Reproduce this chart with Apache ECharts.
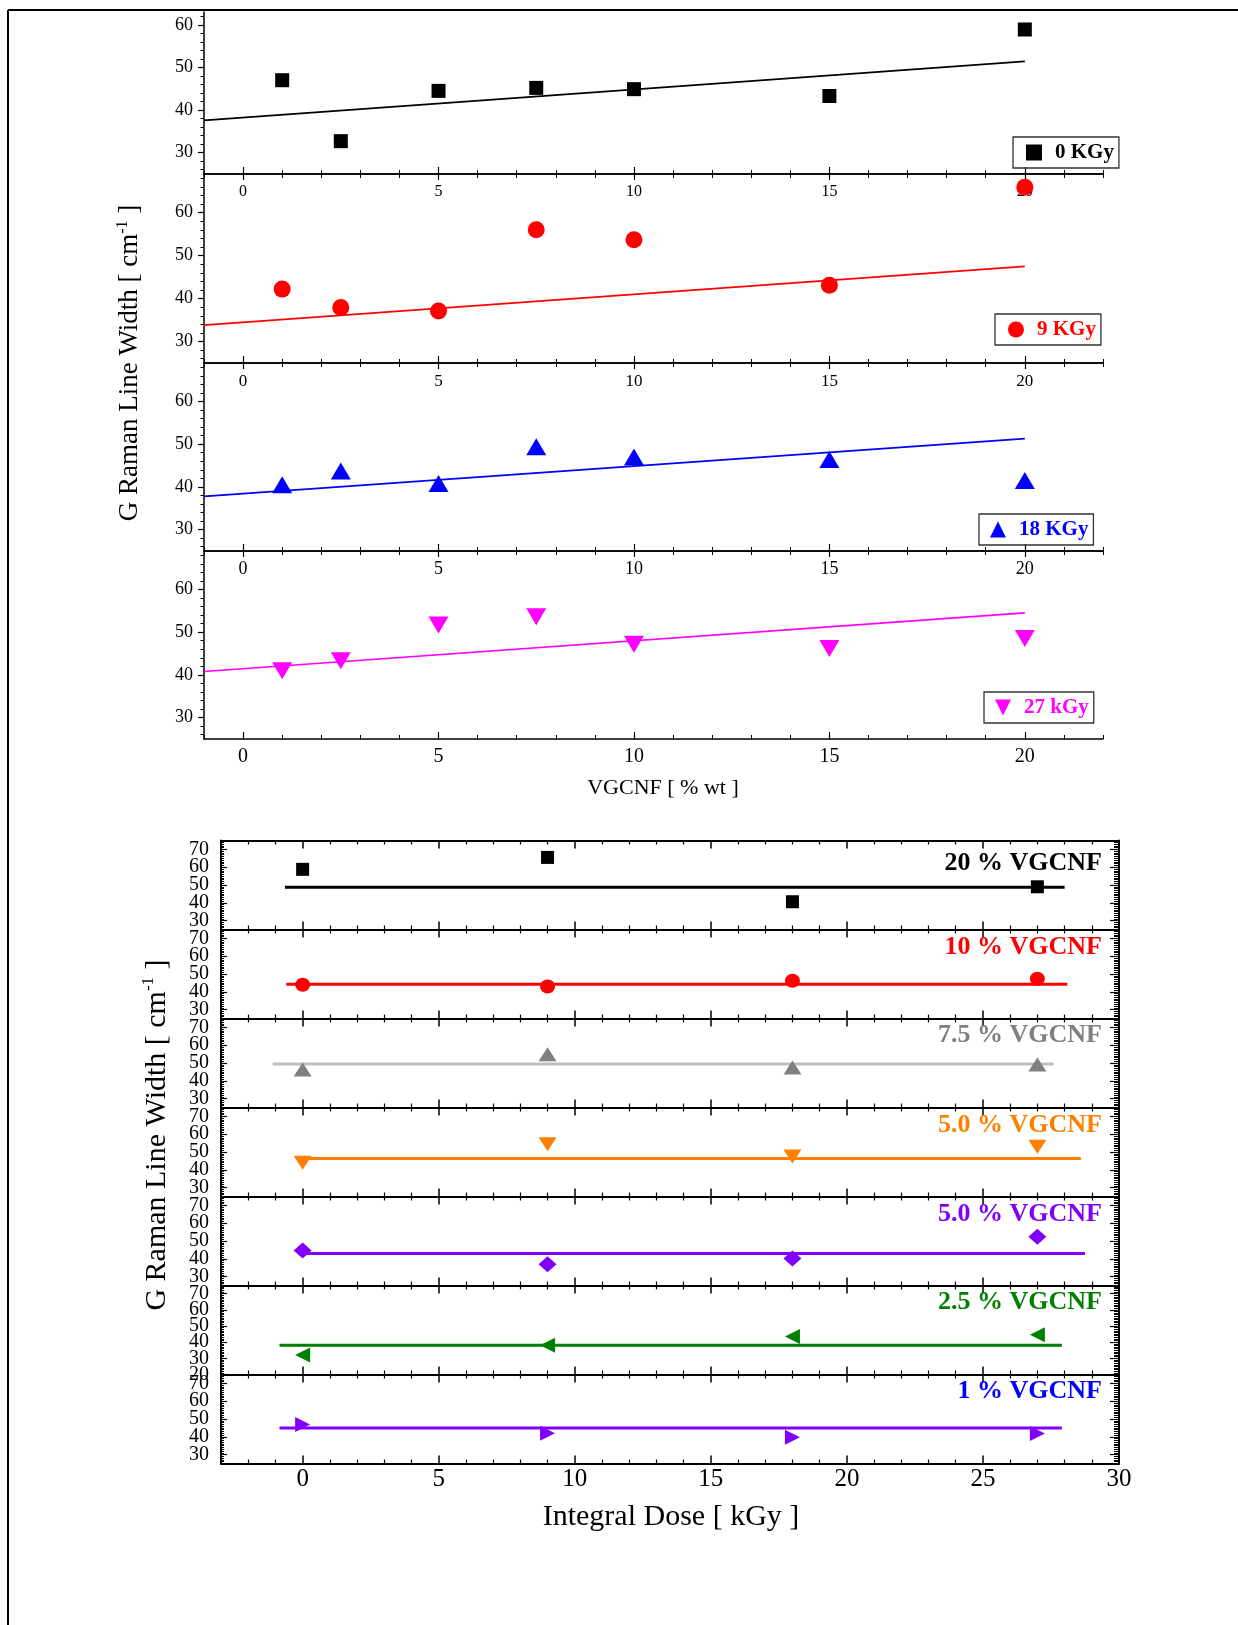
<!DOCTYPE html>
<html><head><meta charset="utf-8">
<script src="https://cdn.jsdelivr.net/npm/echarts@6/dist/echarts.min.js"></script>
<style>html,body{margin:0;padding:0;background:#fff}#c{width:1238px;height:1625px}</style>
</head><body><div id="c"></div>
<script>
const FONT = '"Liberation Serif", "Times New Roman", serif';

// ---------- Top chart data (x = VGCNF % wt) ----------
const vgcnf = [1, 2.5, 5, 7.5, 10, 15, 20];
const width0kGy  = [47.0, 32.7, 44.5, 45.2, 44.9, 43.3, 58.9];
const width9kGy  = [42.2, 37.9, 37.1, 56.0, 53.7, 43.1, 65.9];
const width18kGy = [40.5, 43.7, 40.8, 49.4, 47.0, 46.4, 41.5];
const width27kGy = [41.0, 43.3, 51.7, 53.6, 47.2, 46.2, 48.5];
const fitX = [-1, 20];
const fit0kGy  = [37.6, 51.4];
const fit9kGy  = [33.8, 47.5];
const fit18kGy = [37.8, 51.3];
const fit27kGy = [40.8, 54.5];
const topXTicks = [0, 5, 10, 15, 20];
const topYTicks = [30, 40, 50, 60];

// ---------- Bottom chart data (x = integral dose kGy) ----------
const dose = [0, 9, 18, 27];
const w20pct  = [58.8, 65.5, 40.6, 49.0];
const w10pct  = [44.0, 43.0, 46.2, 47.3];
const w75pct  = [46.3, 54.9, 47.5, 49.1];
const w50pctA = [44.0, 54.4, 47.5, 52.9];
const w50pctB = [44.7, 36.9, 40.2, 52.4];
const w25pct  = [32.0, 38.0, 43.5, 44.5];
const w1pct   = [46.9, 42.0, 39.7, 41.8];
const fit20pct  = {x: [-0.65, 28.0], y: 48.7};
const fit10pct  = {x: [-0.6, 28.1], y: 44.3};
const fit75pct  = {x: [-1.1, 27.6], y: 49.4};
const fit50pctA = {x: [0, 28.6], y: 46.4};
const fit50pctB = {x: [0, 28.75], y: 43.0};
const fit25pct  = {x: [-0.85, 27.9], y: 38.0};
const fit1pct   = {x: [-0.85, 27.9], y: 45.0};
const botXTicks = [0, 5, 10, 15, 20, 25, 30];
const botYTicks = [30, 40, 50, 60, 70];
const botYTicks20 = [20, 30, 40, 50, 60, 70];

// ---------- helpers ----------
function seq(a, b, step) { const r = []; for (let v = a; v <= b + 1e-9; v += step) r.push(Math.round(v * 1000) / 1000); return r; }
function minorOf(a, b, step, major) { return seq(a, b, step).filter(v => Math.abs(v / major - Math.round(v / major)) > 1e-6); }

const grid = [], xAxis = [], yAxis = [], series = [], legend = [], graphic = [];
function fixAxis(o) {
  o.axisLine = Object.assign({onZero: false}, o.axisLine || {});
  if (o.axisLabel) o.axisLabel = Object.assign({showMinLabel: true, showMaxLabel: true, hideOverlap: false}, o.axisLabel);
  return o;
}
function addX(g, o) { xAxis.push(fixAxis(Object.assign({gridIndex: g, type: 'value', splitLine: {show: false}}, o))); return xAxis.length - 1; }
function addY(g, o) { yAxis.push(fixAxis(Object.assign({gridIndex: g, type: 'value', splitLine: {show: false}}, o))); return yAxis.length - 1; }
const blk = (w) => ({color: '#000', width: w});

const DOWN = 'path://M0,0L10,0L5,10Z';
const LEFT = 'path://M0,5L10,0L10,10Z';
const RIGHT = 'path://M10,5L0,0L0,10Z';

// ---------- Top panels ----------
const topPanels = [
  {name: '0 KGy', data: width0kGy, fit: fit0kGy, color: '#000000', symbol: 'rect', size: [14, 14], top: 12, h: 162, ymax: 63, lab: 16, mar: 10,
   lg: {left: 1013, top: 137, padding: [5, 5, 5, 13]}},
  {name: '9 KGy', data: width9kGy, fit: fit9kGy, color: '#ff0000', symbol: 'circle', size: 17, top: 174, h: 189, ymax: 69, lab: 17, mar: 10,
   lg: {left: 995, top: 314, padding: [5, 5, 5, 13]}},
  {name: '18 KGy', data: width18kGy, fit: fit18kGy, color: '#0000ff', symbol: 'triangle', size: [20, 17], top: 363, h: 188, ymax: 69, lab: 18, mar: 9,
   lg: {left: 979, top: 514, padding: [5, 5, 5, 11]}},
  {name: '27 kGy', data: width27kGy, fit: fit27kGy, color: '#ff00ff', symbol: DOWN, size: [20, 17], top: 551, h: 188, ymax: 69, lab: 20, mar: 8,
   lg: {left: 984, top: 692, padding: [5, 5, 5, 11]}}
];

topPanels.forEach((p, i) => {
  grid.push({left: 204, top: p.top, width: 899, height: p.h});
  const g = grid.length - 1;
  const xi = addX(g, {position: 'bottom', min: -1, max: 22,
    axisLine: {show: true, lineStyle: blk(1.5)},
    axisTick: {show: true, inside: true, length: 7, customValues: topXTicks, lineStyle: blk(1.2)},
    axisLabel: {show: true, customValues: topXTicks, fontFamily: FONT, fontSize: p.lab, color: '#000', margin: p.mar}});
  addX(g, {position: 'bottom', min: -1, max: 22, axisLine: {show: false},
    axisTick: {show: true, inside: true, length: 4, customValues: minorOf(-1, 22, 1, 5), lineStyle: blk(1)},
    axisLabel: {show: false}});
  if (i > 0) {
    addX(g, {position: 'top', min: -1, max: 22,
      axisLine: {show: true, lineStyle: blk(1.5)},
      axisTick: {show: true, inside: true, length: 6, customValues: topXTicks, lineStyle: blk(1.2)},
      axisLabel: {show: false}});
    addX(g, {position: 'top', min: -1, max: 22, axisLine: {show: false},
      axisTick: {show: true, inside: true, length: 4, customValues: minorOf(-1, 22, 1, 5), lineStyle: blk(1)},
      axisLabel: {show: false}});
  }
  const yi = addY(g, {position: 'left', min: 25, max: p.ymax,
    axisLine: {show: true, lineStyle: blk(1.5)},
    axisTick: {show: true, inside: false, length: 6, customValues: topYTicks, lineStyle: blk(1.2)},
    axisLabel: {show: true, customValues: topYTicks, fontFamily: FONT, fontSize: 18, color: '#000', margin: 11}});
  addY(g, {position: 'left', min: 25, max: p.ymax, axisLine: {show: false},
    axisTick: {show: true, inside: false, length: 3.5, customValues: minorOf(26, p.ymax, 2, 10), lineStyle: blk(1)},
    axisLabel: {show: false}});
  series.push({type: 'line', name: p.name + ' fit', xAxisIndex: xi, yAxisIndex: yi,
    data: fitX.map((x, k) => [x, p.fit[k]]), symbol: 'none', showSymbol: false,
    lineStyle: {color: p.color, width: 1.7}, silent: true, z: 2, animation: false});
  series.push({type: 'scatter', name: p.name, xAxisIndex: xi, yAxisIndex: yi,
    data: vgcnf.map((x, k) => [x, p.data[k]]), symbol: p.symbol, symbolSize: p.size,
    itemStyle: {color: p.color, opacity: 1}, z: 3, animation: false});
  legend.push({data: [{name: p.name}], left: p.lg.left, top: p.lg.top, padding: p.lg.padding,
    orient: 'horizontal', borderColor: '#333', borderWidth: 1.3, itemWidth: 16, itemHeight: 16,
    selectedMode: false,
    textStyle: {fontFamily: FONT, fontSize: 21, fontWeight: 'bold', color: p.color, padding: [0, 0, 0, 8]}});
});

// ---------- Bottom panels ----------
const bottomPanels = [
  {label: '20 % VGCNF', labelColor: '#000000', color: '#000000', lineColor: '#000000', symbol: 'rect', size: [13, 13], data: w20pct, fit: fit20pct, ymin: 25, yTicks: botYTicks, ly: 863},
  {label: '10 % VGCNF', labelColor: '#ff0000', color: '#ff0000', lineColor: '#ff0000', symbol: 'circle', size: [15, 14], data: w10pct, fit: fit10pct, ymin: 25, yTicks: botYTicks, ly: 947},
  {label: '7.5 % VGCNF', labelColor: '#808080', color: '#808080', lineColor: '#c0c0c0', symbol: 'triangle', size: [18, 14], data: w75pct, fit: fit75pct, ymin: 25, yTicks: botYTicks, ly: 1035.5},
  {label: '5.0 % VGCNF', labelColor: '#ff8000', color: '#ff8000', lineColor: '#ff8000', symbol: DOWN, size: [18, 14], data: w50pctA, fit: fit50pctA, ymin: 25, yTicks: botYTicks, ly: 1125.5},
  {label: '5.0 % VGCNF', labelColor: '#8000ff', color: '#8000ff', lineColor: '#8000ff', symbol: 'diamond', size: [18, 16], data: w50pctB, fit: fit50pctB, ymin: 25, yTicks: botYTicks, ly: 1214},
  {label: '2.5 % VGCNF', labelColor: '#008000', color: '#008000', lineColor: '#008000', symbol: LEFT, size: [15, 15], data: w25pct, fit: fit25pct, ymin: 20, yTicks: botYTicks20, ly: 1302.5},
  {label: '1 % VGCNF', labelColor: '#0000ff', color: '#8000ff', lineColor: '#8000ff', symbol: RIGHT, size: [15, 15], data: w1pct, fit: fit1pct, ymin: 25, yTicks: botYTicks, ly: 1391.5}
];
const BOT_TOP = 840.5, BOT_H = 89;
bottomPanels.forEach((p, i) => {
  grid.push({left: 221, top: BOT_TOP + i * BOT_H, width: 898, height: BOT_H});
  const g = grid.length - 1;
  const last = i === bottomPanels.length - 1;
  const xi = addX(g, {position: 'bottom', min: -3, max: 30,
    axisLine: {show: true, lineStyle: blk(2)},
    axisTick: {show: true, inside: true, length: 8, customValues: botXTicks, lineStyle: blk(1.5)},
    axisLabel: {show: last, customValues: botXTicks, fontFamily: FONT, fontSize: 25, color: '#000', margin: 3}});
  addX(g, {position: 'bottom', min: -3, max: 30, axisLine: {show: false},
    axisTick: {show: true, inside: true, length: 4, customValues: minorOf(-3, 30, 1, 5), lineStyle: blk(1.2)},
    axisLabel: {show: false}});
  addX(g, {position: 'top', min: -3, max: 30,
    axisLine: {show: true, lineStyle: blk(2)},
    axisTick: {show: true, inside: true, length: 8, customValues: botXTicks, lineStyle: blk(1.5)},
    axisLabel: {show: false}});
  addX(g, {position: 'top', min: -3, max: 30, axisLine: {show: false},
    axisTick: {show: true, inside: true, length: 4, customValues: minorOf(-3, 30, 1, 5), lineStyle: blk(1.2)},
    axisLabel: {show: false}});
  // split the crowded y labels over two axes so none is auto-hidden
  const labA = p.yTicks.filter((v, k) => k % 2 === 0);
  const labB = p.yTicks.filter((v, k) => k % 2 === 1);
  const yi = addY(g, {position: 'left', min: p.ymin, max: 75,
    axisLine: {show: true, lineStyle: blk(2)},
    axisTick: {show: true, inside: true, length: 6, customValues: p.yTicks, lineStyle: blk(1.2)},
    axisLabel: {show: true, customValues: labA, fontFamily: FONT, fontSize: 20, color: '#000', margin: 12}});
  addY(g, {position: 'left', min: p.ymin, max: 75, axisLine: {show: false},
    axisTick: {show: true, inside: true, length: 3, customValues: minorOf(p.ymin, 75, 1, 10), lineStyle: blk(1)},
    axisLabel: {show: true, customValues: labB, fontFamily: FONT, fontSize: 20, color: '#000', margin: 12}});
  addY(g, {position: 'right', min: p.ymin, max: 75,
    axisLine: {show: true, lineStyle: blk(2)},
    axisTick: {show: true, inside: true, length: 9, customValues: p.yTicks, lineStyle: blk(1.2)},
    axisLabel: {show: false}});
  addY(g, {position: 'right', min: p.ymin, max: 75, axisLine: {show: false},
    axisTick: {show: true, inside: true, length: 5, customValues: minorOf(p.ymin, 75, 1, 10), lineStyle: blk(1)},
    axisLabel: {show: false}});
  series.push({type: 'line', name: p.label + ' fit ' + i, xAxisIndex: xi, yAxisIndex: yi,
    data: p.fit.x.map(x => [x, p.fit.y]), symbol: 'none', showSymbol: false,
    lineStyle: {color: p.lineColor, width: 3}, silent: true, z: 2, animation: false});
  series.push({type: 'scatter', name: p.label + ' ' + i, xAxisIndex: xi, yAxisIndex: yi,
    data: dose.map((x, k) => [x, p.data[k]]), symbol: p.symbol, symbolSize: p.size,
    itemStyle: {color: p.color, opacity: 1}, z: 3, animation: false});
  graphic.push({type: 'text', x: 1102, y: p.ly, z: 10,
    style: {text: p.label, align: 'right', verticalAlign: 'middle', fill: p.labelColor,
      font: 'bold 26px ' + FONT}});
});

// ---------- titles & frame ----------
graphic.push(
  {type: 'line', shape: {x1: 8, y1: 10, x2: 1238, y2: 10}, style: {stroke: '#000', lineWidth: 2}, z: 20},
  {type: 'line', shape: {x1: 8, y1: 10, x2: 8, y2: 1625}, style: {stroke: '#000', lineWidth: 2}, z: 20},
  {type: 'text', x: 663, y: 788, style: {text: 'VGCNF [ % wt ]', align: 'center', verticalAlign: 'middle', fill: '#000', font: '22px ' + FONT}},
  {type: 'text', x: 671, y: 1517, style: {text: 'Integral Dose [ kGy ]', align: 'center', verticalAlign: 'middle', fill: '#000', font: '30px ' + FONT}},
  {type: 'text', x: 130, y: 363, rotation: Math.PI / 2,
    style: {text: '{a|G Raman Line Width [ cm}{s|-1}{a| ]}', align: 'center', verticalAlign: 'middle',
      rich: {a: {fontFamily: FONT, fontSize: 27, lineHeight: 30, fill: '#000'},
             s: {fontFamily: FONT, fontSize: 16, lineHeight: 16, verticalAlign: 'top', fill: '#000'}}}},
  {type: 'text', x: 157, y: 1135, rotation: Math.PI / 2,
    style: {text: '{a|G Raman Line Width [ cm}{s|-1}{a| ]}', align: 'center', verticalAlign: 'middle',
      rich: {a: {fontFamily: FONT, fontSize: 30, lineHeight: 34, fill: '#000'},
             s: {fontFamily: FONT, fontSize: 17, lineHeight: 17, verticalAlign: 'top', fill: '#000'}}}}
);

const chart = echarts.init(document.getElementById('c'), null, {renderer: 'canvas'});
chart.setOption({
  animation: false,
  backgroundColor: '#ffffff',
  textStyle: {fontFamily: FONT},
  grid, xAxis, yAxis, series, legend, graphic
});
</script>
</body></html>
